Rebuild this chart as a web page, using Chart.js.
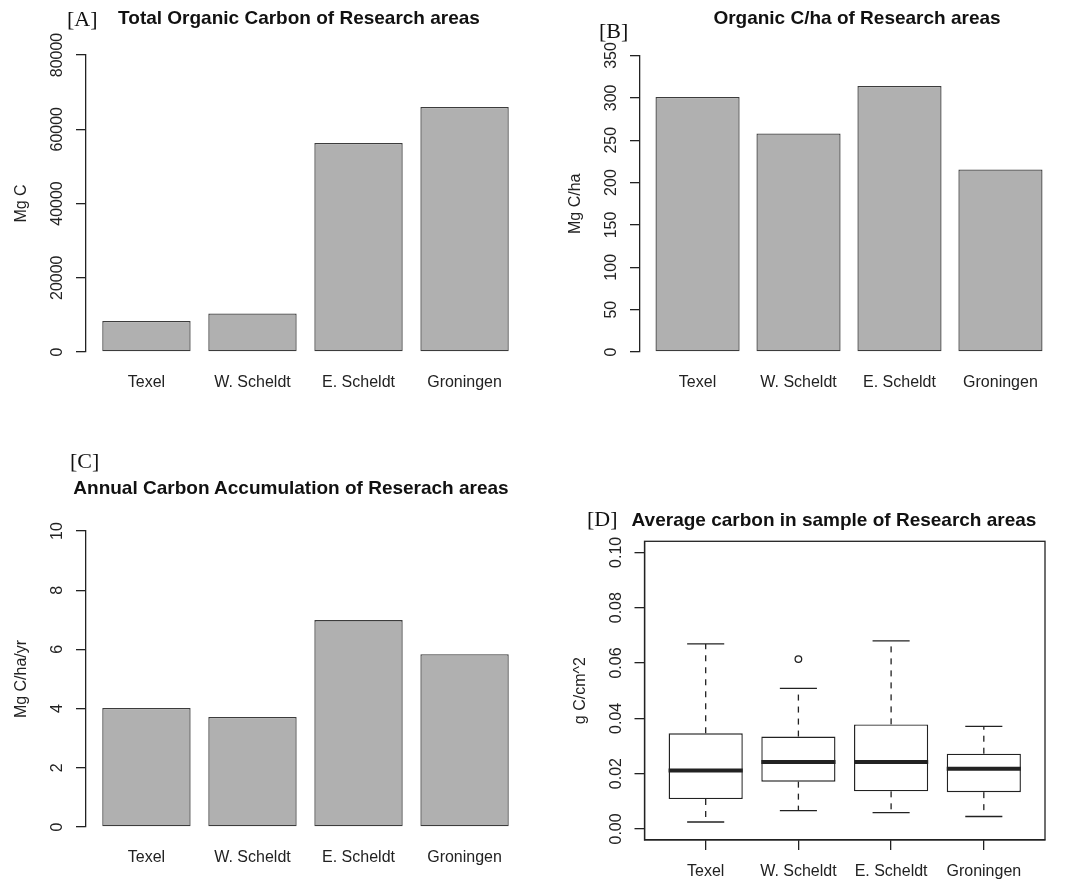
<!DOCTYPE html>
<html>
<head>
<meta charset="utf-8">
<script src="https://cdn.jsdelivr.net/npm/chart.js@4.4.1/dist/chart.umd.min.js"></script>
<style>
  html, body { margin: 0; padding: 0; background: #fff; }
  #page { position: relative; width: 1068px; height: 882px; overflow: hidden; }
  #page canvas { position: absolute; left: 0; top: 0; }
  .tag { position: absolute; font-family: "Liberation Serif", "DejaVu Serif", serif; font-size: 22px;
         line-height: 1; color: #111; white-space: nowrap; }
  .main { position: absolute; font-family: "Liberation Sans", Arial, sans-serif; font-weight: bold;
          font-size: 19px; line-height: 1; color: #111; white-space: nowrap; transform: translateX(-50%); }
</style>
</head>
<body>
<div id="page">
  <canvas id="cA" width="1068" height="882"></canvas>
  <canvas id="cB" width="1068" height="882"></canvas>
  <canvas id="cC" width="1068" height="882"></canvas>
  <canvas id="cD" width="1068" height="882"></canvas>

  <div class="tag" style="left:67px; top:8px;">[A]</div>
  <div class="main" style="left:299px; top:8px;">Total Organic Carbon of Research areas</div>

  <div class="tag" style="left:599px; top:20px;">[B]</div>
  <div class="main" style="left:857px; top:8px;">Organic C/ha of Research areas</div>

  <div class="tag" style="left:70px; top:450px;">[C]</div>
  <div class="main" style="left:291px; top:478px;">Annual Carbon Accumulation of Reserach areas</div>

  <div class="tag" style="left:587px; top:508px;">[D]</div>
  <div class="main" style="left:834px; top:510px;">Average carbon in sample of Research areas</div>
</div>

<script>
// ---- data ---------------------------------------------------------------
const areas = ['Texel', 'W. Scheldt', 'E. Scheldt', 'Groningen'];

// [A] total organic carbon stock, Mg C
const totalCarbon = [8350, 10400, 56300, 66000];
const totalTicks = [0, 20000, 40000, 60000, 80000];

// [B] organic carbon per hectare, Mg C/ha
const carbonPerHa = [301, 258, 314, 215.5];
const perHaTicks = [0, 50, 100, 150, 200, 250, 300, 350];

// [C] annual carbon accumulation, Mg C/ha/yr
const annualAccum = [4.02, 3.72, 6.99, 5.84];
const annualTicks = [0, 2, 4, 6, 8, 10];

// [D] carbon per sample, g C/cm^2 (box-plot statistics)
const sampleLower  = [0.0025, 0.0066, 0.0059, 0.0045];
const sampleQ1     = [0.0108, 0.0171, 0.0136, 0.0133];
const sampleMedian = [0.0211, 0.0242, 0.0242, 0.0218];
const sampleQ3     = [0.0346, 0.0334, 0.0378, 0.0272];
const sampleUpper  = [0.0669, 0.0508, 0.0680, 0.0371];
const sampleOutliers = [[], [0.0614], [], []];
const sampleTicks = [0, 0.02, 0.04, 0.06, 0.08, 0.10];

// ---- shared look --------------------------------------------------------
const FONT = '"Liberation Sans", Arial, Helvetica, sans-serif';
const INK = '#222222';
const BAR_FILL = '#b0b0b0';
const BAR_EDGE = '#3c3c3c';
const PAGE_W = 1068, PAGE_H = 882;
const AXIS_W = 70, AXIS_H = 40;

// base-graphics style bar layout: width 1, gap 0.2, limits widened by 4 %
const BAR_GAP = 0.2, BAR_W = 1;
const barCentre = i => BAR_GAP * (i + 1) + BAR_W * i + BAR_W / 2;
const widen = (lo, hi) => [lo - 0.04 * (hi - lo), hi + 0.04 * (hi - lo)];
const barLimits = widen(BAR_GAP, areas.length * (BAR_GAP + BAR_W));
const boxLimits = widen(0.5, areas.length + 0.5);

// rotated y tick labels, rotated y title and optional frame
const rAxis = {
  id: 'rAxis',
  afterDraw(chart, _args, opts) {
    const { ctx, chartArea, scales: { y } } = chart;
    ctx.save();
    ctx.fillStyle = INK;
    ctx.font = '16px ' + FONT;
    ctx.textAlign = 'center';
    ctx.textBaseline = 'middle';
    const put = (text, px, py) => {
      ctx.save(); ctx.translate(px, py); ctx.rotate(-Math.PI / 2);
      ctx.fillText(text, 0, 0); ctx.restore();
    };
    y.ticks.forEach(t => put(t.label, chartArea.left - opts.labelGap, y.getPixelForValue(t.value)));
    put(opts.title, chartArea.left - opts.titleGap, (chartArea.top + chartArea.bottom) / 2);
    if (opts.frame) {
      ctx.strokeStyle = INK;
      ctx.lineWidth = 1.3;
      ctx.strokeRect(chartArea.left, chartArea.top, chartArea.right - chartArea.left, chartArea.bottom - chartArea.top);
    }
    ctx.restore();
  }
};

// whiskers, staples and medians for the box plot
const boxDetails = {
  id: 'boxDetails',
  afterDatasetsDraw(chart) {
    const { ctx, scales: { x, y } } = chart;
    ctx.save();
    ctx.strokeStyle = INK;
    ctx.lineCap = 'butt';
    areas.forEach((_, i) => {
      const pos = i + 1;
      const cx = x.getPixelForValue(pos);
      const halfBox = x.getPixelForValue(pos + 0.4) - cx;
      const halfCap = x.getPixelForValue(pos + 0.2) - cx;
      const seg = (x0, y0, x1, y1) => { ctx.beginPath(); ctx.moveTo(x0, y0); ctx.lineTo(x1, y1); ctx.stroke(); };
      // dashed whiskers
      ctx.lineWidth = 1.3;
      ctx.setLineDash([6, 6]);
      seg(cx, y.getPixelForValue(sampleQ3[i]), cx, y.getPixelForValue(sampleUpper[i]));
      seg(cx, y.getPixelForValue(sampleQ1[i]), cx, y.getPixelForValue(sampleLower[i]));
      ctx.setLineDash([]);
      // staples
      seg(cx - halfCap, y.getPixelForValue(sampleUpper[i]), cx + halfCap, y.getPixelForValue(sampleUpper[i]));
      seg(cx - halfCap, y.getPixelForValue(sampleLower[i]), cx + halfCap, y.getPixelForValue(sampleLower[i]));
      // median
      ctx.lineWidth = 4;
      seg(cx - halfBox, y.getPixelForValue(sampleMedian[i]), cx + halfBox, y.getPixelForValue(sampleMedian[i]));
    });
    ctx.restore();
  }
};

function layoutFor(area) {
  return {
    padding: {
      left: area.left - AXIS_W,
      top: area.top,
      right: PAGE_W - area.right,
      bottom: PAGE_H - area.bottom - AXIS_H
    }
  };
}

function fixY(s) { s.width = AXIS_W; s.paddingTop = 0; s.paddingBottom = 0; }
function fixX(s) { s.height = AXIS_H; s.paddingLeft = 0; s.paddingRight = 0; }

const tickFont = { family: FONT, size: 16 };

function barChart(id, values, yTicks, yTitle, area) {
  return new Chart(document.getElementById(id), {
    type: 'bar',
    data: {
      datasets: [{
        data: values.map((v, i) => ({ x: barCentre(i), y: v })),
        backgroundColor: BAR_FILL,
        borderColor: BAR_EDGE,
        borderWidth: 1.3,
        borderSkipped: false,
        categoryPercentage: 1,
        barPercentage: BAR_W / (BAR_W + BAR_GAP)
      }]
    },
    options: {
      responsive: false,
      animation: false,
      devicePixelRatio: 1,
      layout: layoutFor(area),
      plugins: {
        legend: { display: false },
        tooltip: { enabled: false },
        rAxis: { title: yTitle, labelGap: 28, titleGap: 64 }
      },
      scales: {
        x: {
          type: 'linear',
          min: barLimits[0], max: barLimits[1],
          offset: false,
          afterFit: fixX,
          afterBuildTicks: s => { s.ticks = areas.map((_, i) => ({ value: barCentre(i) })); },
          grid: { display: false, drawTicks: false, offset: false },
          border: { display: false },
          ticks: { font: tickFont, color: INK, padding: 21, maxRotation: 0, autoSkip: false,
                   callback: (v, i) => areas[i] }
        },
        y: {
          min: yTicks[0], max: yTicks[yTicks.length - 1],
          afterFit: fixY,
          afterBuildTicks: s => { s.ticks = yTicks.map(v => ({ value: v })); },
          grid: { drawOnChartArea: false, drawTicks: true, tickLength: 10, color: INK, lineWidth: 1.3 },
          border: { display: true, color: INK, width: 1.3 },
          ticks: { display: false, callback: v => String(v) }
        }
      }
    },
    plugins: [rAxis]
  });
}

barChart('cA', totalCarbon, totalTicks, 'Mg C',     { left: 86,  top: 55,   right: 525,  bottom: 352 });
barChart('cB', carbonPerHa, perHaTicks, 'Mg C/ha',  { left: 640, top: 55.5, right: 1058, bottom: 352 });
barChart('cC', annualAccum, annualTicks, 'Mg C/ha/yr', { left: 86, top: 531, right: 525,  bottom: 827 });

// [D] box plot
const sampleLimits = widen(sampleTicks[0], sampleTicks[sampleTicks.length - 1]);
new Chart(document.getElementById('cD'), {
  type: 'bar',
  data: {
    datasets: [
      {
        type: 'bar',
        data: areas.map((_, i) => ({ x: i + 1, y: [sampleQ1[i], sampleQ3[i]] })),
        backgroundColor: '#ffffff',
        borderColor: INK,
        borderWidth: 1.4,
        borderSkipped: false,
        categoryPercentage: 1,
        barPercentage: 0.8
      },
      {
        type: 'scatter',
        data: sampleOutliers.flatMap((vals, i) => vals.map(v => ({ x: i + 1, y: v }))),
        pointStyle: 'circle',
        pointRadius: 3.3,
        pointBorderWidth: 1.3,
        pointBackgroundColor: 'rgba(255,255,255,0)',
        pointBorderColor: INK
      }
    ]
  },
  options: {
    responsive: false,
    animation: false,
    devicePixelRatio: 1,
    layout: layoutFor({ left: 644.5, top: 541.3, right: 1045, bottom: 840 }),
    plugins: {
      legend: { display: false },
      tooltip: { enabled: false },
      rAxis: { title: 'g C/cm^2', labelGap: 28, titleGap: 64, frame: true }
    },
    scales: {
      x: {
        type: 'linear',
        min: boxLimits[0], max: boxLimits[1],
        offset: false,
        afterFit: fixX,
        afterBuildTicks: s => { s.ticks = areas.map((_, i) => ({ value: i + 1 })); },
        grid: { drawOnChartArea: false, drawTicks: true, tickLength: 10, color: INK, lineWidth: 1.3, offset: false },
        border: { display: true, color: INK, width: 1.3 },
        ticks: { font: tickFont, color: INK, padding: 12, maxRotation: 0, autoSkip: false,
                 callback: (v, i) => areas[i] }
      },
      y: {
        min: sampleLimits[0], max: sampleLimits[1],
        afterFit: fixY,
        afterBuildTicks: s => { s.ticks = sampleTicks.map(v => ({ value: v })); },
        grid: { drawOnChartArea: false, drawTicks: true, tickLength: 10, color: INK, lineWidth: 1.3 },
        border: { display: true, color: INK, width: 1.3 },
        ticks: { display: false, callback: v => v.toFixed(2) }
      }
    }
  },
  plugins: [rAxis, boxDetails]
});
</script>
</body>
</html>
